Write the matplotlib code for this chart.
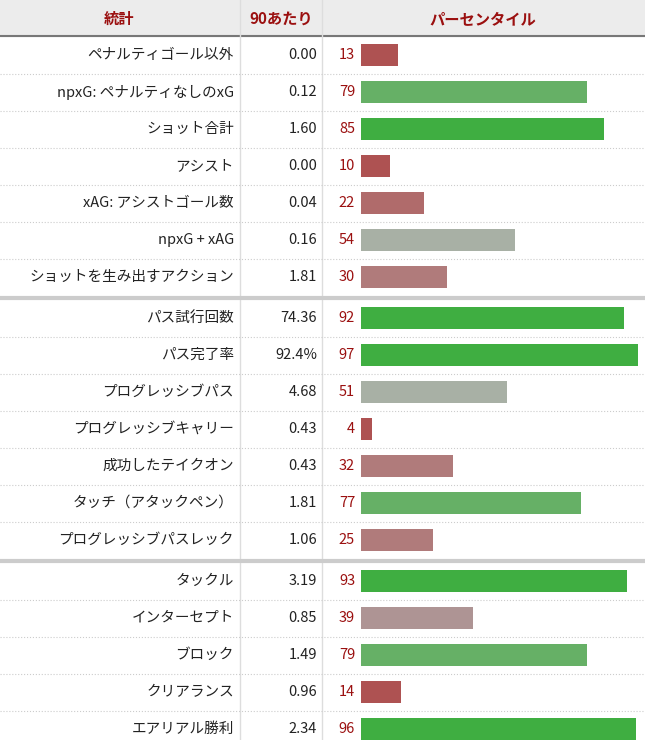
import matplotlib
matplotlib.use("Agg")
import matplotlib.pyplot as plt

stats = ["ペナルティゴール以外", "npxG: ペナルティなしのxG", "ショット合計", "アシスト", "xAG: アシストゴール数",
         "npxG + xAG", "ショットを生み出すアクション",
         "パス試行回数", "パス完了率", "プログレッシブパス", "プログレッシブキャリー", "成功したテイクオン",
         "タッチ（アタックペン）", "プログレッシブパスレック",
         "タックル", "インターセプト", "ブロック", "クリアランス", "エアリアル勝利"]
per90 = ["0.00", "0.12", "1.60", "0.00", "0.04", "0.16", "1.81",
         "74.36", "92.4%", "4.68", "0.43", "0.43", "1.81", "1.06",
         "3.19", "0.85", "1.49", "0.96", "2.34"]
pct = [13, 79, 85, 10, 22, 54, 30, 92, 97, 51, 4, 32, 77, 25, 93, 39, 79, 14, 96]
groups = [7, 7, 5]
headers = ["統計", "90あたり", "パーセンタイル"]

def color(p):
    if p >= 80: return "#3fae41"
    if p >= 60: return "#66b066"
    if p >= 50: return "#a8b0a5"
    if p >= 45: return "#a9aaa8"
    if p >= 35: return "#ae9494"
    if p >= 25: return "#b07b7b"
    if p >= 20: return "#b06b6b"
    return "#ae5252"

plt.rcParams["font.family"] = ["Noto Sans CJK JP"]
fig = plt.figure(figsize=(6.45, 7.4), dpi=100)
ax = fig.add_axes([0, 0, 1, 1])
ax.set_xlim(0, 645); ax.set_ylim(740, 0); ax.axis("off")

red = "#9b1010"
ax.add_patch(plt.Rectangle((0, 0), 645, 36, color="#ececec", zorder=0))
ax.plot([0, 645], [36, 36], color="#777777", lw=1.5)
for x, h in zip([119, 281, 483], headers):
    ax.text(x, 19, h, ha="center", va="center", color=red, fontsize=11, fontweight="bold")
for x in [240, 322]:
    ax.plot([x, x], [0, 740], color="#dddddd", lw=1)

scale = 2.86
y = 55
i = 0
for g, n in enumerate(groups):
    for k in range(n):
        ax.text(234, y, stats[i], ha="right", va="center", fontsize=10.5, color="#222222")
        ax.text(317, y, per90[i], ha="right", va="center", fontsize=10.5, color="#222222")
        ax.text(355, y, str(pct[i]), ha="right", va="center", fontsize=10.5, color=red)
        ax.barh(y, pct[i] * scale, left=361, height=22, color=color(pct[i]))
        if k < n - 1:
            ax.plot([0, 645], [y + 18.5, y + 18.5], color="#cccccc", lw=0.8, ls=":")
        y += 37
        i += 1
    if g < len(groups) - 1:
        ax.plot([0, 645], [y - 16, y - 16], color="#cccccc", lw=3)
        y += 4

fig.savefig("out.png", dpi=100)
